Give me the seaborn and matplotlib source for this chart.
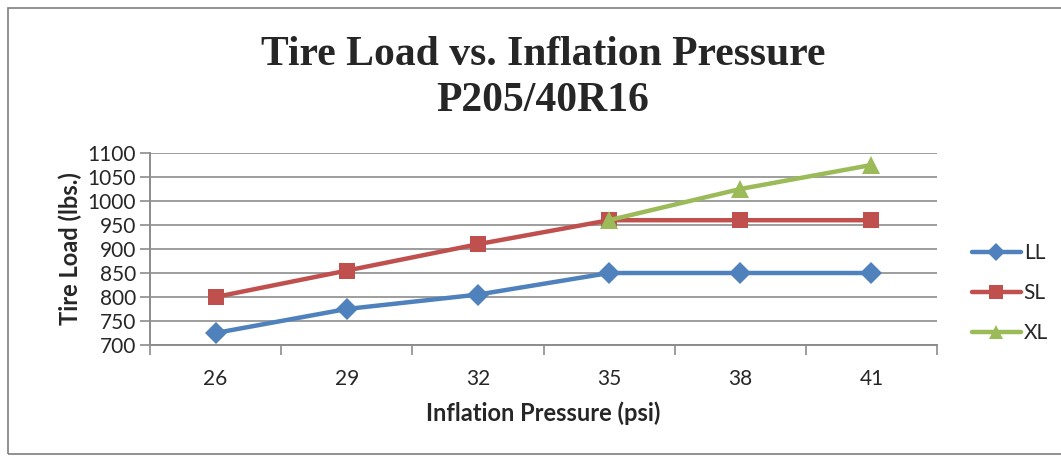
import numpy as np
import pandas as pd
import matplotlib
matplotlib.use("Agg")
import matplotlib.pyplot as plt
import seaborn as sns
from matplotlib.patches import Rectangle

# Data
pressures = ["26", "29", "32", "35", "38", "41"]
ll_load = [725, 775, 805, 850, 850, 850]
sl_load = [800, 855, 910, 960, 960, 960]
xl_load = [np.nan, np.nan, np.nan, 960, 1025, 1075]

series_names = ["LL", "SL", "XL"]
colors = {"LL": "#4F81BD", "SL": "#C0504D", "XL": "#9BBB59"}
markers = {"LL": "D", "SL": "s", "XL": "^"}
msizes = {"LL": 11, "SL": 12, "XL": 13}

pos = np.arange(len(pressures))
df = pd.DataFrame({
    "pos": np.tile(pos, 3),
    "load": ll_load + sl_load + xl_load,
    "rating": np.repeat(series_names, len(pressures)),
})

sns.set_style("white")
plt.rcParams["font.family"] = ["Lato", "DejaVu Sans"]

fig = plt.figure(figsize=(10.61, 4.58), dpi=100)
ax = fig.add_axes([150 / 1061, 1 - 345 / 458, (937 - 150) / 1061, (345 - 153) / 458])

for name in series_names:
    sub = df[df["rating"] == name].dropna()
    sns.lineplot(data=sub, x="pos", y="load", ax=ax, color=colors[name],
                 marker=markers[name], markersize=msizes[name],
                 markeredgewidth=0, linewidth=3.2, label=name, zorder=3)

ax.set_xlim(-0.5, len(pressures) - 0.5)
ax.set_ylim(700, 1100)
ax.set_yticks(np.arange(700, 1101, 50))
ax.yaxis.grid(True, color="#8c8c8c", linewidth=1.2)
ax.set_axisbelow(True)

# category boundaries as major ticks, labels at centres
ax.set_xticks(np.arange(-0.5, len(pressures), 1.0))
ax.set_xticklabels([])
ax.set_xticks(pos, minor=True)
ax.set_xticklabels(pressures, minor=True, fontsize=15)
ax.tick_params(axis="x", which="major", length=7, color="#8c8c8c", width=1.2, direction="out")
ax.tick_params(axis="x", which="minor", length=0, pad=17)
ax.tick_params(axis="y", length=7, color="#8c8c8c", width=1.2, direction="out", labelsize=15, pad=3)
ax.tick_params(bottom=True, left=True, which="both")

for s in ["top", "right"]:
    ax.spines[s].set_visible(False)
for s in ["left", "bottom"]:
    ax.spines[s].set_color("#8c8c8c")
    ax.spines[s].set_linewidth(1.4)

ax.set_xlabel("Inflation Pressure (psi)", fontsize=17, fontweight="bold", labelpad=9)
ax.set_ylabel("Tire Load (lbs.)", fontsize=17, fontweight="bold", labelpad=4)

fig.text(543 / 1061, 1 - 78 / 458, "Tire Load vs. Inflation Pressure\nP205/40R16",
         ha="center", va="center", fontsize=30, fontweight="bold",
         family="Liberation Serif", linespacing=1.25)

leg = ax.legend(loc="center left", bbox_to_anchor=(0.044, 0.27), frameon=False,
                fontsize=15, handlelength=2.35, handletextpad=0.15, labelspacing=0.95,
                borderaxespad=0, borderpad=0, markerscale=0.8)
leg.set_bbox_to_anchor((1.044, 0.27), transform=ax.transAxes)

# chart border
fig.patches.append(Rectangle((8 / 1061, 4 / 458), 1060 / 1061, 446 / 458,
                             transform=fig.transFigure, fill=False,
                             edgecolor="#7f7f7f", linewidth=1.2))

fig.savefig("out.png", dpi=100)
